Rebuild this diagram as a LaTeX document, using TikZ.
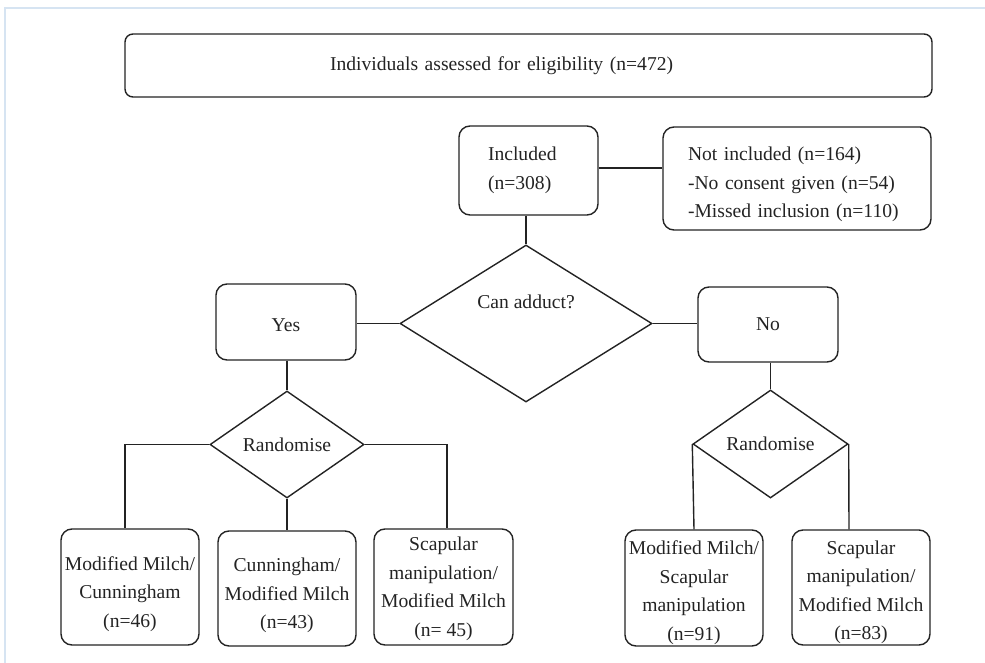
\documentclass[tikz,border=0pt]{standalone}
\usepackage{fontspec}
\setmainfont{Liberation Serif}
\usepackage{tikz}
\usetikzlibrary{shapes.geometric, positioning, calc}
\usepackage{xcolor}
\definecolor{frameblue}{RGB}{214,228,242}
\definecolor{ink}{RGB}{35,35,35}

\begin{document}
\begin{tikzpicture}[x=1pt, y=-1pt, line width=1.4pt,
    box/.style={draw=ink, rectangle, rounded corners=11pt, align=center, inner sep=0pt, text=ink},
    choice/.style={draw=ink, diamond, inner sep=0pt, text=ink},
    every node/.style={font=\fontsize{19.6}{28.5}\selectfont}]
        \useasboundingbox (0,0) rectangle (985,663);
        \draw[frameblue, line width=2pt] (5,663) -- (5,8) -- (985,8);
        \node[box, rounded corners=8pt, align=left, text width=397, minimum width=807, minimum height=63] (assess) at (528.5,65.5) {Individuals assessed for eligibility (n=472)};
        \node[box, align=left, text width=81, minimum width=139, minimum height=89] (incl) at (528.5,170.5) {Included\\(n=308)};
        \node[box, align=left, text width=218, minimum width=268, minimum height=103] (notincl) at (797,178.5) {\rule{0pt}{25.5pt}Not included (n=164)\\-No consent given (n=54)\\-Missed inclusion (n=110)};
        \node[choice, minimum width=252, minimum height=157] (adduct) at (526,323.5) {};
        \node[text=ink] (adductlbl) at (526,302) {Can adduct?};
        \node[box, minimum width=140, minimum height=76] (yes) at (286,322) {\rule{0pt}{19pt}Yes};
        \node[box, minimum width=140, minimum height=75] (no) at (768,324.5) {No};
        % randomisation per arm
        \node[choice, minimum width=154, minimum height=107] (randyes) at (287,444.5) {Randomise};
        \node[choice, minimum width=155, minimum height=108] (randno) at (770.5,444) {Randomise};
        \node[box, minimum width=138, minimum height=116] (mmc) at (130,587) {\rule{0pt}{27.5pt}Modified Milch/\\Cunningham\\(n=46)};
        \node[box, minimum width=138, minimum height=115] (cmm) at (287,588.5) {\rule{0pt}{27.5pt}Cunningham/\\Modified Milch\\(n=43)};
        \node[box, minimum width=139, minimum height=116] (smy) at (443.5,587) {\rule{0pt}{17.5pt}Scapular\\manipulation/\\Modified Milch\\(n= 45)};
        \node[box, minimum width=138, minimum height=116] (mms) at (694,588) {\rule{0pt}{23.5pt}Modified Milch/\\Scapular\\manipulation\\(n=91)};
        \node[box, minimum width=138, minimum height=115] (smn) at (861,587.5) {\rule{0pt}{23.5pt}Scapular\\manipulation/\\Modified Milch\\(n=83)};
        \draw[ink] (incl.east |- 0,168) -- (notincl.west |- 0,168);
        \draw[ink] (adduct.north |- incl.south) -- (adduct.north);
        \draw[ink] (adduct.west) -- (yes.east |- adduct.west);
        \draw[ink] (adduct.east) -- (no.west |- adduct.east);
        \draw[ink] (randyes.north |- yes.south) -- (randyes.north);
        \draw[ink] (randno.north |- no.south) -- (randno.north);
        \draw[ink] (randyes.west) -| ([xshift=-5pt]mmc.north);
        \draw[ink] (randyes.south) -- (cmm.north);
        \draw[ink] (randyes.east) -| ([xshift=3.5pt]smy.north);
        \draw[ink] (randno.west) -- (mms.north);
        \draw[ink] (randno.east) -- ([xshift=-12pt]smn.north);
    \end{tikzpicture}
\end{document}
